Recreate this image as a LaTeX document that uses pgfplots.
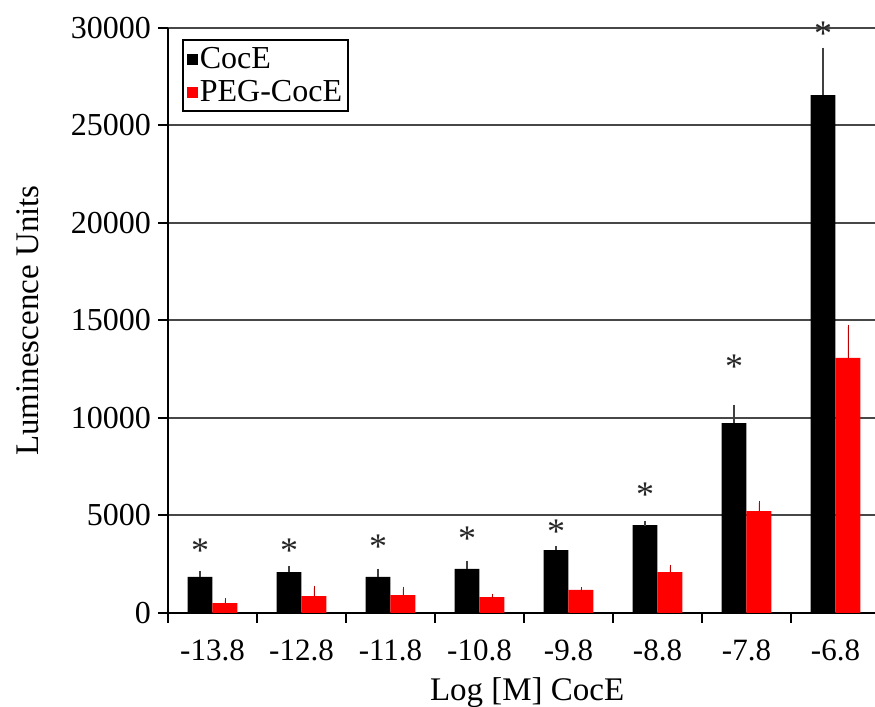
\documentclass[border=0pt]{standalone}
\usepackage{pgfplots}
\pgfplotsset{compat=1.18}
\usepackage{fontspec}
\setmainfont{Liberation Serif}

\begin{document}
\begin{tikzpicture}
\begin{axis}[
  scale only axis, width=353.5pt, height=292.5pt,
  xmin=-0.5, xmax=7.444, ymin=0, ymax=30000,
  clip=false,
  axis x line*=bottom, axis y line*=left,
  every outer x axis line/.append style={-},
  every outer y axis line/.append style={-},
  every inner x axis line/.append style={-},
  every inner y axis line/.append style={-},
  axis line style={black, line width=1pt},
  xtick={0,...,7},
  xticklabels={-13.8,-12.8,-11.8,-10.8,-9.8,-8.8,-7.8,-6.8},
  minor xtick={-0.5,0.5,...,6.5},
  major x tick style={draw=none},
  minor x tick style={black, line width=1pt},
  ytick={0,5000,...,30000},
  y tick style={black, line width=1pt},
  tick align=outside,
  major tick length=5pt, minor tick length=5pt,
  ymajorgrids,
  major grid style={line width=1pt, black!72},
  scaled y ticks=false,
  /pgf/number format/.cd, 1000 sep={}, assume math mode=true, /pgfplots/.cd,
  ticklabel style={font=\fontsize{16}{19}\selectfont},
  xticklabel style={font=\fontsize{15.5}{19}\selectfont, yshift=-5pt},
  every axis y label/.style={at={(rel axis cs:0,0.5)}, xshift=-70pt, rotate=90, anchor=center, font=\fontsize{16.5}{19}\selectfont},
  every axis x label/.style={at={(rel axis cs:0.508,0)}, anchor=base, yshift=-44pt, font=\fontsize{16.5}{19}\selectfont},
  xlabel={Log [M] CocE},
  ylabel={Luminescence Units},
  legend style={at={(0.02,0.981)}, anchor=north west, draw=black, line width=0.75pt,
    font=\fontsize{16}{18}\selectfont, inner xsep=2pt, inner ysep=2.5pt,
    nodes={inner sep=1pt}, row sep=2.5pt},
  legend cell align=left,
  legend image code/.code={\fill[#1] (0pt,-3pt) rectangle (5.5pt,2.5pt);},
]
\addplot[ybar, bar width=0.28, bar shift=0, fill=black, draw=none,
  error bars/.cd, y dir=plus, y explicit, error mark=-,
  error bar style={black!75, line width=0.6pt}, error mark options={black!75, mark size=1.2pt, line width=0.6pt}]
coordinates {
(-0.14,1850) +- (0,200)
(0.86,2100) +- (0,200)
(1.86,1850) +- (0,300)
(2.86,2260) +- (0,300)
(3.86,3230) +- (0,100)
(4.86,4510) +- (0,90)
(5.86,9740) +- (0,820)
(6.86,26560) +- (0,2310)
};
\addlegendentry{CocE}
\addplot[ybar, bar width=0.28, bar shift=0, fill=red, draw=none,
  error bars/.cd, y dir=plus, y explicit, error mark=-,
  error bar style={red!75!black, line width=0.4pt}, error mark options={red!75!black, mark size=1.2pt, line width=0.4pt}]
coordinates {
(0.14,510) +- (0,140)
(1.14,870) +- (0,410)
(2.14,920) +- (0,310)
(3.14,820) +- (0,50)
(4.14,1180) +- (0,30)
(5.14,2100) +- (0,260)
(6.14,5230) +- (0,410)
(7.14,13080) +- (0,1590)
};
\addlegendentry{PEG-CocE}
\addplot[forget plot, only marks, mark=text, text mark={*}, text mark as node=true,
  text mark style={font=\fontsize{18}{19}\selectfont, text=black!85, yshift=-2pt, inner sep=0pt}]
coordinates {
(-0.14,3385) (0.86,3385) (1.86,3590) (2.86,4000) (3.86,4360) (4.86,6260) (5.86,12820) (6.86,29900)
};
\coordinate (ll) at (rel axis cs:0,0);
\coordinate (ur) at (rel axis cs:1,1);
\end{axis}
\pgfresetboundingbox
\path ([shift={(-84pt,-47pt)}]ll) rectangle ([shift={(0pt,14pt)}]ur);
\end{tikzpicture}
\end{document}
